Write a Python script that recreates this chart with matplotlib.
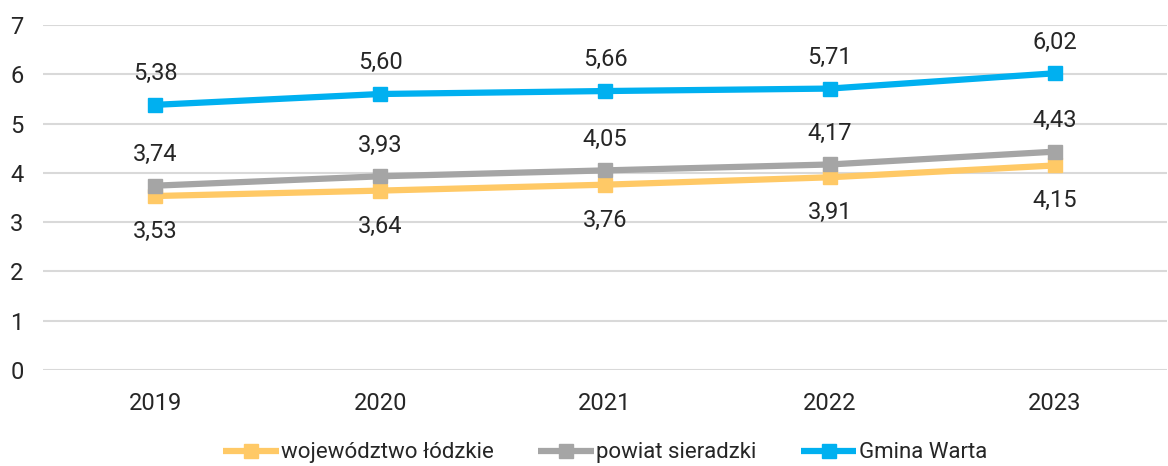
import matplotlib.pyplot as plt
from matplotlib.ticker import MultipleLocator

years = ["2019", "2020", "2021", "2022", "2023"]
lodzkie = [3.53, 3.64, 3.76, 3.91, 4.15]
sieradzki = [3.74, 3.93, 4.05, 4.17, 4.43]
warta = [5.38, 5.60, 5.66, 5.71, 6.02]

series = [
    ("województwo łódzkie", lodzkie, "#FFC966", -1),
    ("powiat sieradzki", sieradzki, "#A5A5A5", 1),
    ("Gmina Warta", warta, "#00B0F0", 1),
]

TXT = "#262626"
plt.rcParams["font.family"] = ["Roboto", "DejaVu Sans"]

fig = plt.figure(figsize=(11.68, 4.66), dpi=100)
ax = fig.add_axes([43 / 1168, 1 - 370 / 466, 1124 / 1168, 345 / 466])

x = list(range(len(years)))
for name, vals, color, side in series:
    ax.plot(x, vals, color=color, lw=4.5, marker="s", ms=10, label=name,
            solid_capstyle="butt")
    for xi, v in zip(x, vals):
        off = 22.5 if side > 0 else -25.5
        ax.annotate(f"{v:.2f}".replace(".", ","), (xi, v), xytext=(0, off),
                    textcoords="offset points", ha="center", va="center",
                    fontsize=17, color=TXT)

ax.set_xlim(-0.5, 4.5)
ax.set_ylim(0, 7)
ax.yaxis.set_major_locator(MultipleLocator(1))
ax.set_xticks(x)
ax.set_xticklabels(years)
ax.grid(axis="y", color="#D9D9D9", lw=1.5)
ax.set_axisbelow(True)
for s in ax.spines.values():
    s.set_visible(False)
ax.tick_params(length=0, labelsize=17, labelcolor=TXT)
ax.tick_params(axis="y", pad=14)
ax.tick_params(axis="x", pad=16)

leg = ax.legend(loc="center", bbox_to_anchor=(0.5, -0.24), ncol=3, frameon=False,
                fontsize=16, handlelength=2.5, handletextpad=0.1, columnspacing=2.0)
for t in leg.get_texts():
    t.set_color(TXT)

fig.savefig("out.png", dpi=100)
